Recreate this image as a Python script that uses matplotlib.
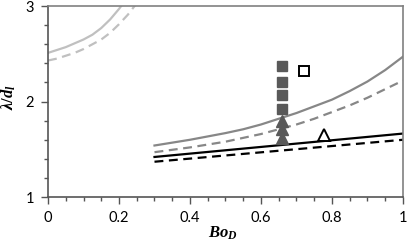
import matplotlib
matplotlib.use("Agg")
import matplotlib.pyplot as plt
from matplotlib.ticker import MultipleLocator

plt.rcParams['mathtext.fontset'] = 'custom'
plt.rcParams['mathtext.it'] = 'Liberation Serif:italic:bold'
plt.rcParams['mathtext.rm'] = 'Liberation Serif:bold'
plt.rcParams['mathtext.bf'] = 'Liberation Serif:italic:bold'

# light gray curves (top left)
lg_x = [0.0, 0.025, 0.05, 0.075, 0.10, 0.125, 0.15, 0.175, 0.20, 0.21]
lg_solid = [2.51, 2.54, 2.57, 2.61, 2.65, 2.70, 2.77, 2.86, 2.97, 3.02]
lg_dx = [0.0, 0.025, 0.05, 0.075, 0.10, 0.125, 0.15, 0.175, 0.20, 0.225, 0.25]
lg_dash = [2.43, 2.45, 2.48, 2.51, 2.55, 2.60, 2.65, 2.72, 2.81, 2.91, 3.03]

# mid gray curves
mg_x = [0.3, 0.35, 0.4, 0.45, 0.5, 0.55, 0.6, 0.65, 0.7, 0.75, 0.8, 0.85, 0.9, 0.95, 1.0]
mg_solid = [1.54, 1.57, 1.60, 1.635, 1.67, 1.71, 1.76, 1.82, 1.88, 1.95, 2.02, 2.11, 2.21, 2.33, 2.47]
mg_dash = [1.47, 1.495, 1.52, 1.55, 1.58, 1.62, 1.66, 1.71, 1.76, 1.82, 1.89, 1.96, 2.04, 2.13, 2.22]

# black lines
bk_x = [0.3, 1.0]
bk_solid = [1.42, 1.665]
bk_dash = [1.37, 1.60]

# measured points
sq_x = [0.66, 0.66, 0.66, 0.66]
sq_y = [2.375, 2.21, 2.068, 1.925]
tri_x = [0.66, 0.66, 0.66]
tri_y = [1.80, 1.71, 1.62]
osq_x = [0.72]
osq_y = [2.32]
otri_x = [0.777]
otri_y = [1.65]

fig = plt.figure(figsize=(4.07, 2.43), dpi=100)
ax = fig.add_axes([0.118, 0.189, 0.872, 0.786])

ax.plot(lg_x, lg_solid, color='#c0c0c0', lw=1.6)
ax.plot(lg_dx, lg_dash, color='#c0c0c0', lw=1.6, dashes=(4, 2.5))
ax.plot(mg_x, mg_solid, color='#878787', lw=1.6)
ax.plot(mg_x, mg_dash, color='#878787', lw=1.6, dashes=(4, 2.5))
ax.plot(bk_x, bk_solid, color='black', lw=1.6)
ax.plot(bk_x, bk_dash, color='black', lw=1.6, dashes=(4, 2.5))

ax.plot(sq_x, sq_y, 's', color='#595959', ms=7, ls='none')
ax.plot(tri_x, tri_y, '^', color='#595959', ms=8, ls='none')
ax.plot(osq_x, osq_y, 's', mfc='white', mec='black', mew=1.4, ms=7, ls='none')
ax.plot(otri_x, otri_y, '^', mfc='white', mec='black', mew=1.4, ms=8, ls='none')

ax.set_xlim(0, 1)
ax.set_ylim(1, 3)
ax.xaxis.set_minor_locator(MultipleLocator(0.05))
ax.yaxis.set_minor_locator(MultipleLocator(0.2))
ax.set_xticks([0, 0.2, 0.4, 0.6, 0.8, 1.0])
ax.set_xticklabels(['0', '0.2', '0.4', '0.6', '0.8', '1'])
ax.set_yticks([1, 2, 3])
ax.set_yticklabels(['1', '2', '3'])

for lab in ax.get_xticklabels() + ax.get_yticklabels():
    lab.set_fontfamily('Lato')
    lab.set_fontsize(10.5)

ax.tick_params(which='major', direction='out', length=5, width=1, color='#555555', pad=5)
ax.tick_params(which='minor', direction='out', length=3, width=1, color='#555555')
for s in ax.spines.values():
    s.set_color('#808080')
    s.set_linewidth(1.2)
ax.spines['left'].set_color('#555555')
ax.spines['bottom'].set_color('#555555')

fig.text(0.547, 0.005, r'$Bo_D$', fontsize=12, ha='center', va='bottom')
fig.text(0.022, 0.60, r'$\lambda/d_l$', fontsize=12, ha='center', va='center', rotation=90)

fig.savefig('out.png', dpi=100)
